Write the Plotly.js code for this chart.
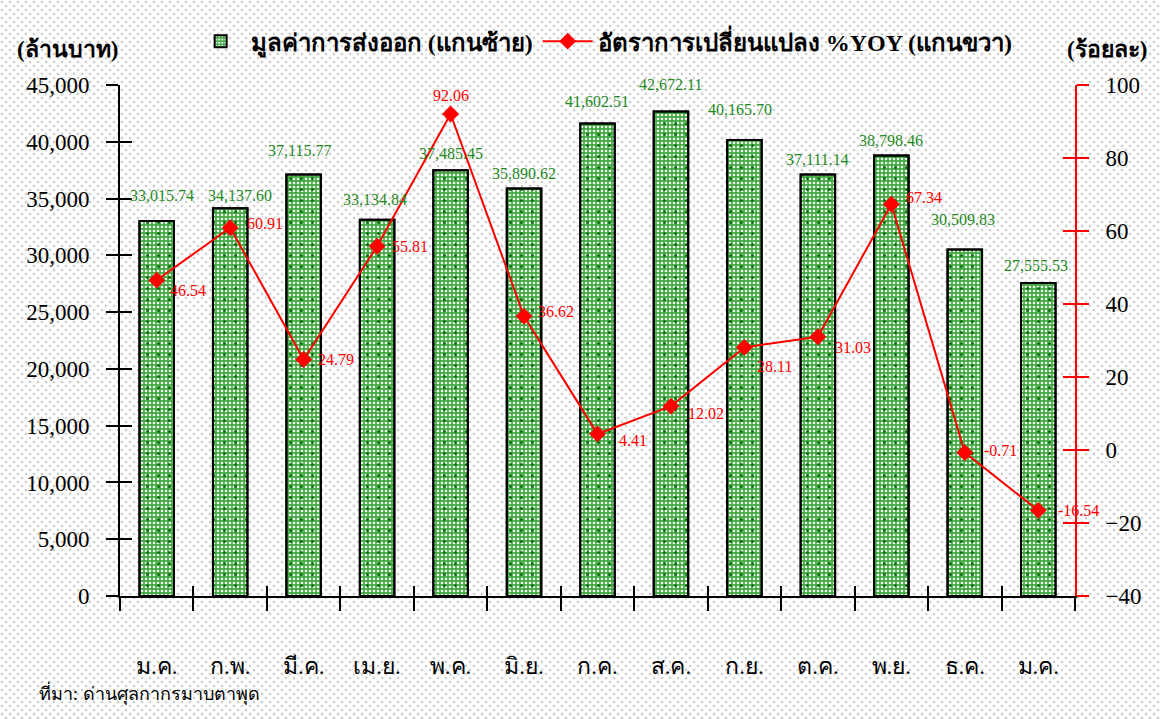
<!DOCTYPE html>
<html>
<head>
<meta charset="utf-8">
<script src="https://cdn.plot.ly/plotly-3.0.1.min.js"></script>
<style>
html,body{margin:0;padding:0;}
body{
  width:1160px;height:719px;
  background-color:#ffffff;
  background-image:
    radial-gradient(circle at 2px 2px, #cfcfcf 1.1px, rgba(255,255,255,0) 1.7px),
    radial-gradient(circle at 2px 2px, #cfcfcf 1.1px, rgba(255,255,255,0) 1.7px);
  background-size:8px 8px, 8px 8px;
  background-position:0 0, 4px 4px;
}
#chart{width:1160px;height:719px;}
</style>
</head>
<body>
<div id="chart"></div>
<script>
// ---- data ----
const months = ['ม.ค.', 'ก.พ.', 'มี.ค.', 'เม.ย.', 'พ.ค.', 'มิ.ย.', 'ก.ค.', 'ส.ค.', 'ก.ย.', 'ต.ค.', 'พ.ย.', 'ธ.ค.', 'ม.ค.'];
const exportValue = [33015.74, 34137.60, 37115.77, 33134.84, 37485.45, 35890.62, 41602.51, 42672.11, 40165.70, 37111.14, 38798.46, 30509.83, 27555.53];
const yoyChange = [46.54, 60.91, 24.79, 55.81, 92.06, 36.62, 4.41, 12.02, 28.11, 31.03, 67.34, -0.71, -16.54];
const barName = 'มูลค่าการส่งออก (แกนซ้าย)';
const lineName = 'อัตราการเปลี่ยนแปลง %YOY (แกนขวา)';
const leftTitle = '(ล้านบาท)';
const rightTitle = '(ร้อยละ)';
const sourceNote = 'ที่มา: ด่านศุลกากรมาบตาพุด';

// label pixel nudges (styling only)
const greenNudge = [[5,26],[10,13],[-4,24],[-2,20],[0,17],[0,15],[-1,22],[0,27],[-4,30],[0,15],[0,15],[-2,30],[-2,18]];
const redNudge = [[11,-10],[15,4],[12,0],[13,0],[-20,18],[12,5],[19,-7],[15,-7],[11,-19],[15,-11],[13,7],[17,2],[18,0]];

const idx = months.map((_, i) => i);
const bounds = months.map((_, i) => i - 0.5).concat([months.length - 0.5]);

const SERIF = '"Liberation Serif", "Times New Roman", serif';
const GREEN_TXT = '#1f8a1f';
const RED = '#ff0000';

const fmt = v => v.toLocaleString('en-US', {minimumFractionDigits: 2, maximumFractionDigits: 2});

const traces = [
  {
    type: 'bar', x: idx, y: exportValue, name: barName, width: 0.47,
    marker: {
      color: '#42a842',
      pattern: {shape: '.', fgcolor: '#f4fff4', bgcolor: '#42a842', size: 4, solidity: 0.35},
      line: {color: '#000000', width: 2}
    },
    hoverinfo: 'x+y'
  },
  {
    type: 'bar', x: idx, y: exportValue, name: barName, showlegend: false, width: 0.47,
    marker: {
      color: 'rgba(0,0,0,0)',
      pattern: {shape: '.', fgcolor: '#0a700a', bgcolor: 'rgba(0,0,0,0)', size: 11, solidity: 0.06},
      line: {color: '#000000', width: 2}
    },
    hoverinfo: 'skip'
  },
  {
    type: 'scatter', mode: 'lines+markers', x: idx, y: yoyChange, yaxis: 'y2', name: lineName,
    line: {color: RED, width: 2},
    marker: {symbol: 'diamond', size: 13, color: RED}
  },
  // helper traces so the crossing-tick axes are drawn
  {type: 'scatter', x: [null], y: [null], xaxis: 'x2', yaxis: 'y', showlegend: false, hoverinfo: 'skip'},
  {type: 'scatter', x: [null], y: [null], xaxis: 'x', yaxis: 'y3', showlegend: false, hoverinfo: 'skip'},
  {type: 'scatter', x: [null], y: [null], xaxis: 'x', yaxis: 'y4', showlegend: false, hoverinfo: 'skip'}
];

const annotations = [];
exportValue.forEach((v, i) => {
  annotations.push({
    x: i, y: v, xref: 'x', yref: 'y', text: fmt(v), showarrow: false,
    xanchor: 'center', yanchor: 'middle',
    xshift: greenNudge[i][0], yshift: greenNudge[i][1],
    font: {family: SERIF, size: 16, color: GREEN_TXT}
  });
});
yoyChange.forEach((v, i) => {
  annotations.push({
    x: i, y: v, xref: 'x', yref: 'y2', text: v.toFixed(2), showarrow: false,
    xanchor: 'left', yanchor: 'middle',
    xshift: redNudge[i][0], yshift: redNudge[i][1],
    font: {family: SERIF, size: 16, color: RED}
  });
});
annotations.push(
  {xref: 'paper', yref: 'paper', x: -0.055, y: 1.07, text: '<b>' + leftTitle + '</b>', showarrow: false,
   xanchor: 'center', yanchor: 'middle', font: {family: SERIF, size: 23, color: '#000'}},
  {xref: 'paper', yref: 'paper', x: 1.033, y: 1.07, text: '<b>' + rightTitle + '</b>', showarrow: false,
   xanchor: 'center', yanchor: 'middle', font: {family: SERIF, size: 23, color: '#000'}},
  {xref: 'paper', yref: 'paper', x: -0.087, y: -0.19, text: sourceNote, showarrow: false,
   xanchor: 'left', yanchor: 'middle', font: {family: SERIF, size: 18, color: '#000'}}
);

const xRange = [-0.5, months.length - 0.5];
const layout = {
  width: 1160, height: 719,
  margin: {l: 120, r: 85, t: 85, b: 123, pad: 0},
  paper_bgcolor: 'rgba(0,0,0,0)', plot_bgcolor: 'rgba(0,0,0,0)',
  barmode: 'overlay',
  showlegend: true,
  font: {family: SERIF, color: '#000'},
  legend: {
    orientation: 'h', x: 0.074, y: 1.085, xanchor: 'left', yanchor: 'middle',
    bgcolor: 'rgba(0,0,0,0)', font: {family: SERIF, size: 24, color: '#000', weight: 'bold'},
    itemwidth: 50, traceorder: 'normal'
  },
  xaxis: {
    range: xRange, tickmode: 'array', tickvals: idx, ticktext: months,
    ticks: '', showgrid: false, zeroline: false,
    showline: true, linecolor: '#000', linewidth: 2,
    tickfont: {family: SERIF, size: 23, color: '#000'},
    ticklabelstandoff: 48,
    minor: {tickmode: 'array', tickvals: bounds, ticks: 'outside', ticklen: 13, tickwidth: 2, tickcolor: '#000', showgrid: false}
  },
  xaxis2: {
    overlaying: 'x', anchor: 'y', range: xRange, tickmode: 'array', tickvals: bounds,
    ticks: 'inside', ticklen: 10, tickwidth: 2, tickcolor: '#000', side: 'bottom',
    showticklabels: false, showgrid: false, zeroline: false, showline: false
  },
  yaxis: {
    range: [0, 45000], tickmode: 'linear', tick0: 0, dtick: 5000, tickformat: ',d',
    ticks: 'outside', ticklen: 12, tickwidth: 2, tickcolor: '#000',
    showline: true, linecolor: '#000', linewidth: 2,
    showgrid: false, zeroline: false,
    tickfont: {family: SERIF, size: 23, color: '#000'}, ticklabelstandoff: 12
  },
  yaxis3: {
    overlaying: 'y', anchor: 'x', side: 'left', range: [0, 45000], tickmode: 'linear', tick0: 0, dtick: 5000,
    ticks: 'inside', ticklen: 12, tickwidth: 2, tickcolor: '#000',
    showticklabels: false, showgrid: false, zeroline: false, showline: false
  },
  yaxis2: {
    overlaying: 'y', side: 'right', anchor: 'x', range: [-40, 100], tickmode: 'linear', tick0: -40, dtick: 20,
    ticks: 'outside', ticklen: 12, tickwidth: 2, tickcolor: RED,
    showline: true, linecolor: RED, linewidth: 2,
    showgrid: false, zeroline: false,
    tickfont: {family: SERIF, size: 23, color: '#000'}, ticklabelstandoff: 12
  },
  yaxis4: {
    overlaying: 'y', side: 'right', anchor: 'x', range: [-40, 100], tickmode: 'linear', tick0: -40, dtick: 20,
    ticks: 'inside', ticklen: 12, tickwidth: 2, tickcolor: RED,
    showticklabels: false, showgrid: false, zeroline: false, showline: false
  },
  annotations: annotations
};

Plotly.newPlot('chart', traces, layout, {displayModeBar: false, staticPlot: true});
</script>
</body>
</html>
